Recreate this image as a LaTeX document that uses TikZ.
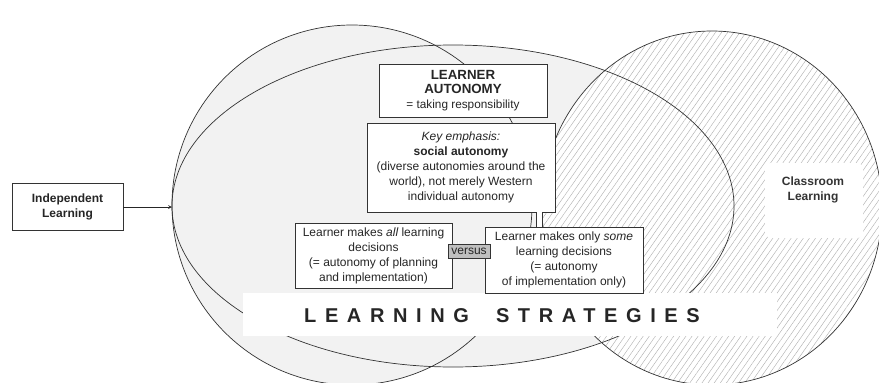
\documentclass[tikz,border=0pt]{standalone}
\usepackage{fontspec}
\setmainfont{Liberation Sans}
\usepackage{tikz}
\usetikzlibrary{patterns.meta}

\begin{document}
\begin{tikzpicture}[x=1pt, y=-1pt,
  bx/.style={draw=black!80, fill=white, line width=0.6pt, align=center,
             inner sep=0pt, text=black!85, font=\fontsize{12}{15}\selectfont},
  rim/.style={draw=black!80, line width=0.7pt},
  >=stealth]
\useasboundingbox (0,0) rectangle (879,383);
% the three fields
\fill[black!5] (352,205) circle [radius=180];
\fill[black!5] (453,206) ellipse [x radius=281, y radius=161];
\fill[white] (712,208) ellipse [x radius=170, y radius=177];
\fill[pattern={Lines[angle=55,distance=5pt,line width=0.4pt]}, pattern color=black!32]
  (712,208) ellipse [x radius=170, y radius=177];
\draw[rim] (352,205) circle [radius=180];
\draw[rim] (453,206) ellipse [x radius=281, y radius=161];
\draw[rim] (712,208) ellipse [x radius=170, y radius=177];
% blank strips
\fill[white] (243,293) rectangle (777,336);
\fill[white, rounded corners=6pt] (765,163) rectangle (863,238);

\node[bx, minimum width=111, minimum height=47, font=\fontsize{12}{15}\selectfont\bfseries] (IL) at (67.5,207) {Independent\\Learning};
\node[bx, minimum width=168, minimum height=53, font=\fontsize{13.3}{14.5}\selectfont\bfseries] (LA) at (463,90.5)
  {LEARNER\\AUTONOMY\\{\fontsize{11.8}{14.5}\selectfont\mdseries = taking responsibility}};
\node[bx, minimum width=188, minimum height=89] (KE) at (461,167.5)
  {{\itshape Key emphasis:}\\{\bfseries social autonomy}\\(diverse autonomies around the\\world), not merely Western\\individual autonomy};
\node[bx, minimum width=157, minimum height=65] (AL) at (373.5,255.5)
  {Learner makes {\itshape all} learning\\decisions\\(= autonomy of planning\\and implementation)};
\node[bx, minimum width=158, minimum height=66] (SO) at (564,260)
  {Learner makes only {\itshape some}\\learning decisions\\(= autonomy\\of implementation only)};
\node[bx, fill=black!25, minimum width=42, minimum height=14] (VS) at (469,251) {versus};
\node[text=black!85, font=\fontsize{20}{24}\selectfont\bfseries\addfontfeature{LetterSpace=43}] (LS) at (502,316) {LEARNING\hspace{13pt} STRATEGIES};
\node[text=black!80, align=center, font=\fontsize{12}{15}\selectfont\bfseries] (CL) at (813,190) {Classroom\\Learning};

\coordinate (Aw) at (172,207);
\coordinate (dl) at (539.5,0);
\draw[->, line width=0.7pt, black!85] (IL) -- (Aw);
\draw[double=white, double distance=5pt, line width=0.6pt, black!80] (KE.south -| dl) -- (SO.north -| dl);
\end{tikzpicture}
\end{document}
